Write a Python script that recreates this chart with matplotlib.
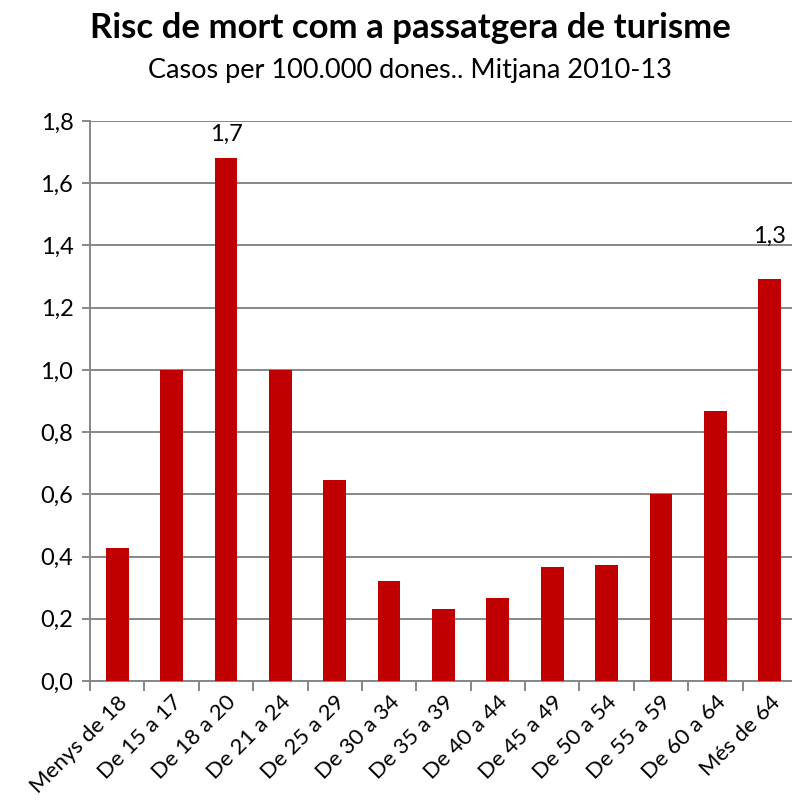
import matplotlib.pyplot as plt
from matplotlib.ticker import FuncFormatter

# dades
grups = ["Menys de 18", "De 15 a 17", "De 18 a 20", "De 21 a 24", "De 25 a 29",
         "De 30 a 34", "De 35 a 39", "De 40 a 44", "De 45 a 49", "De 50 a 54",
         "De 55 a 59", "De 60 a 64", "Més de 64"]
risc = [0.428, 1.0, 1.681, 1.0, 0.646, 0.321, 0.231, 0.267, 0.366, 0.373,
        0.601, 0.868, 1.292]
etiquetes = {2: "1,7", 12: "1,3"}
marge_etiqueta = {2: 0.055, 12: 0.116}

plt.rcParams['font.family'] = ['Lato', 'DejaVu Sans']

fig = plt.figure(figsize=(7.92, 8.11), dpi=100)
ax = fig.add_axes([90 / 792, 130 / 811, 702 / 792, 560 / 811])

x = list(range(len(grups)))
ax.bar(x, risc, width=0.42, color="#C00000", zorder=3)

for i, txt in etiquetes.items():
    ax.text(i, risc[i] + marge_etiqueta[i], txt, ha="center", va="baseline", fontsize=17)

ax.set_ylim(0, 1.8)
ax.set_yticks([i * 0.2 for i in range(10)])
ax.yaxis.set_major_formatter(FuncFormatter(lambda v, p: f"{v:.1f}".replace(".", ",")))
ax.set_xlim(-0.5, 12.41)
ax.set_xticks([i - 0.5 for i in range(13)])
ax.set_xticklabels([])
ax.set_xticks(x, minor=True)
ax.set_xticklabels(grups, minor=True, rotation=45, ha="right", rotation_mode="anchor",
                   fontsize=16)
ax.tick_params(axis="x", which="minor", length=0, pad=8)
ax.tick_params(axis="x", which="major", length=7, width=1.4, color="#878787")
ax.tick_params(axis="y", length=6, width=1.4, color="#878787", labelsize=17, pad=6)

ax.grid(axis="y", color="#878787", linewidth=1.4, zorder=0)
for s in ["top", "right"]:
    ax.spines[s].set_visible(False)
for s in ["left", "bottom"]:
    ax.spines[s].set_color("#878787")
    ax.spines[s].set_linewidth(1.4)

fig.text(0.518, 0.965, "Risc de mort com a passatgera de turisme", ha="center", va="center",
         fontsize=25, fontweight="bold")
fig.text(0.518, 0.913, "Casos per 100.000 dones.. Mitjana 2010-13", ha="center", va="center",
         fontsize=19.5)

plt.savefig("out.png")
